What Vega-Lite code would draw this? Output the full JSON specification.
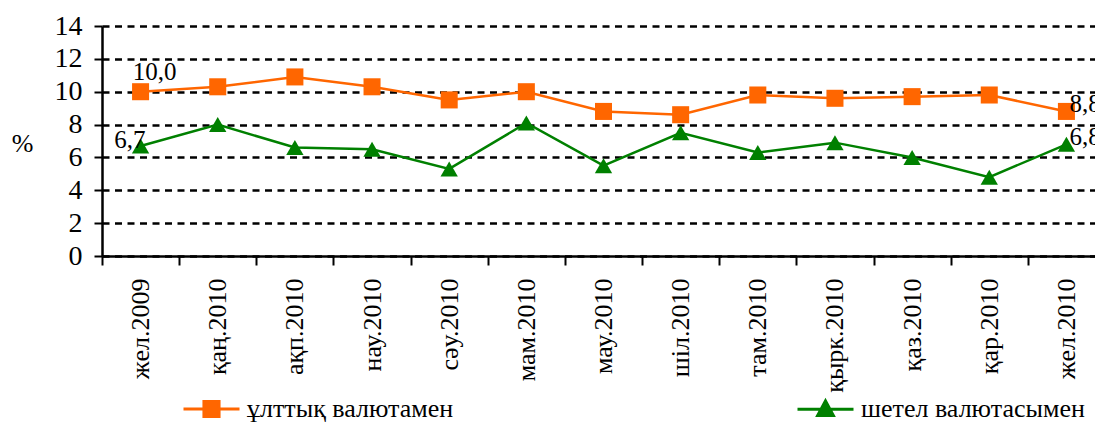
{
  "$schema": "https://vega.github.io/schema/vega-lite/v6.json",
  "width": 1003,
  "height": 230,
  "autosize": {"type": "none"},
  "padding": {"left": 102, "top": 26, "right": 0, "bottom": 167},
  "background": "white",
  "config": {
    "view": {"stroke": null},
    "font": "Liberation Serif",
    "axis": {
      "domainColor": "black",
      "domainWidth": 2.5,
      "tickColor": "black",
      "tickWidth": 2,
      "labelColor": "black",
      "labelFont": "Liberation Serif",
      "titleFont": "Liberation Serif",
      "titleColor": "black"
    },
    "legend": {"labelFont": "Liberation Serif"}
  },
  "data": {
    "values": [
      {"month": "жел.2009", "series": "ұлттық валютамен", "value": 10.0, "label": "10,0"},
      {"month": "қаң.2010", "series": "ұлттық валютамен", "value": 10.3},
      {"month": "ақп.2010", "series": "ұлттық валютамен", "value": 10.9},
      {"month": "нау.2010", "series": "ұлттық валютамен", "value": 10.3},
      {"month": "сәу.2010", "series": "ұлттық валютамен", "value": 9.5},
      {"month": "мам.2010", "series": "ұлттық валютамен", "value": 10.0},
      {"month": "мау.2010", "series": "ұлттық валютамен", "value": 8.8},
      {"month": "шіл.2010", "series": "ұлттық валютамен", "value": 8.6},
      {"month": "там.2010", "series": "ұлттық валютамен", "value": 9.8},
      {"month": "қырк.2010", "series": "ұлттық валютамен", "value": 9.6},
      {"month": "қаз.2010", "series": "ұлттық валютамен", "value": 9.7},
      {"month": "қар.2010", "series": "ұлттық валютамен", "value": 9.8},
      {"month": "жел.2010", "series": "ұлттық валютамен", "value": 8.8, "label": "8,8"},
      {"month": "жел.2009", "series": "шетел валютасымен", "value": 6.7, "label": "6,7"},
      {"month": "қаң.2010", "series": "шетел валютасымен", "value": 8.0},
      {"month": "ақп.2010", "series": "шетел валютасымен", "value": 6.6},
      {"month": "нау.2010", "series": "шетел валютасымен", "value": 6.5},
      {"month": "сәу.2010", "series": "шетел валютасымен", "value": 5.3},
      {"month": "мам.2010", "series": "шетел валютасымен", "value": 8.1},
      {"month": "мау.2010", "series": "шетел валютасымен", "value": 5.5},
      {"month": "шіл.2010", "series": "шетел валютасымен", "value": 7.5},
      {"month": "там.2010", "series": "шетел валютасымен", "value": 6.3},
      {"month": "қырк.2010", "series": "шетел валютасымен", "value": 6.9},
      {"month": "қаз.2010", "series": "шетел валютасымен", "value": 6.0},
      {"month": "қар.2010", "series": "шетел валютасымен", "value": 4.8},
      {"month": "жел.2010", "series": "шетел валютасымен", "value": 6.8, "label": "6,8"}
    ]
  },
  "encoding": {
    "x": {
      "field": "month",
      "type": "nominal",
      "sort": null,
      "scale": {"type": "band", "paddingInner": 0, "paddingOuter": 0},
      "axis": {
        "title": null,
        "tickBand": "extent",
        "labelAngle": -90,
        "labelPadding": 13,
        "tickSize": 9,
        "labelFontSize": 26,
        "labelLimit": 300,
        "grid": false
      }
    },
    "y": {
      "field": "value",
      "type": "quantitative",
      "scale": {"domain": [0, 14], "nice": false, "zero": true},
      "axis": {
        "values": [0, 2, 4, 6, 8, 10, 12, 14],
        "format": "d",
        "grid": true,
        "gridColor": "black",
        "gridDash": [7, 5.5],
        "gridWidth": 2.5,
        "gridOpacity": 1,
        "tickSize": 8,
        "labelPadding": 12,
        "labelFontSize": 28,
        "title": "%",
        "titleAngle": 0,
        "titleX": -80,
        "titleY": 117,
        "titleAlign": "center",
        "titleBaseline": "middle",
        "titleFontSize": 26,
        "titleFontWeight": "normal"
      }
    },
    "color": {
      "field": "series",
      "type": "nominal",
      "scale": {"domain": ["ұлттық валютамен", "шетел валютасымен"], "range": ["#FF6600", "#008000"]},
      "legend": {
        "orient": "none",
        "legendX": 80,
        "legendY": 353,
        "direction": "horizontal",
        "title": null,
        "padding": 0,
        "symbolSize": 3136,
        "symbolStrokeWidth": 3,
        "labelOffset": 6,
        "columnPadding": 337,
        "labelFontSize": 26,
        "labelLimit": 500,
        "labelColor": "black",
        "symbolOpacity": 1,
        "encode": {
          "symbols": {
            "update": {
              "shape": [
                {"test": "datum.value === 'шетел валютасымен'", "value": "M-1,0H1M0,-0.3L0.28,0.22H-0.28Z"},
                {"value": "M-1,0H1M-0.27,-0.27H0.27V0.27H-0.27Z"}
              ],
              "fill": {"scale": "color", "field": "value"},
              "stroke": {"scale": "color", "field": "value"}
            }
          }
        }
      }
    }
  },
  "layer": [
    {
      "mark": {"type": "line", "strokeWidth": 2.5}
    },
    {
      "transform": [{"filter": "datum.series === 'ұлттық валютамен'"}],
      "mark": {"type": "point", "filled": true, "opacity": 1, "size": 290, "shape": "square"}
    },
    {
      "transform": [{"filter": "datum.series === 'шетел валютасымен'"}],
      "mark": {"type": "point", "filled": true, "opacity": 1, "size": 300, "shape": "triangle-up"}
    },
    {
      "transform": [{"filter": "datum.label === '10,0'"}],
      "mark": {"type": "text", "fontSize": 25, "align": "center", "baseline": "alphabetic", "dx": 14, "dy": -12},
      "encoding": {"text": {"field": "label"}, "color": {"value": "black"}}
    },
    {
      "transform": [{"filter": "datum.label === '6,7'"}],
      "mark": {"type": "text", "fontSize": 25, "align": "right", "baseline": "alphabetic", "dx": 5, "dy": 2},
      "encoding": {"text": {"field": "label"}, "color": {"value": "black"}}
    },
    {
      "transform": [{"filter": "datum.label === '8,8' || datum.label === '6,8'"}],
      "mark": {"type": "text", "fontSize": 25, "align": "left", "baseline": "alphabetic", "dx": 3, "dy": 1},
      "encoding": {"text": {"field": "label"}, "color": {"value": "black"}}
    }
  ]
}
